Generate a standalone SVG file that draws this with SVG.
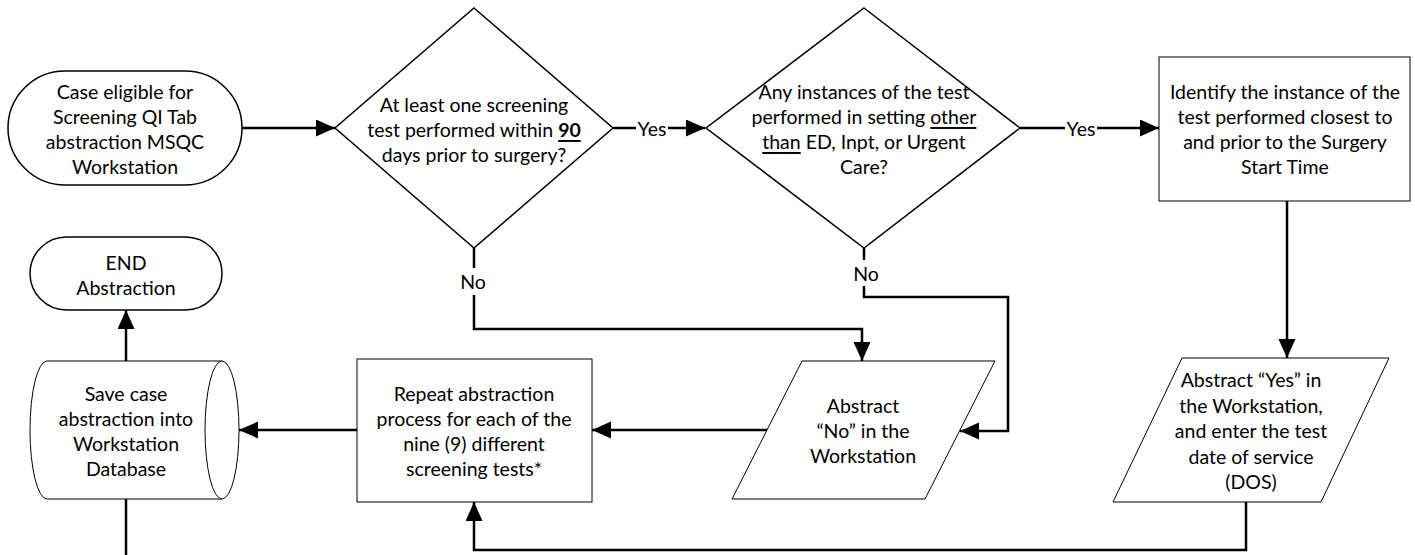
<svg xmlns="http://www.w3.org/2000/svg" width="1415" height="555" viewBox="0 0 1415 555">
<style>
  .shape { fill: #ffffff; stroke: #000000; stroke-width: 1.5; }
  .thin { fill: #ffffff; stroke: #000000; stroke-width: 1; }
  .conn { fill: none; stroke: #000000; stroke-width: 2.5; }
  text { font-family: "Lato", "Liberation Sans", sans-serif; font-size: 19.5px; fill: #000000; text-anchor: middle; dominant-baseline: central; }
  .u { text-decoration: underline; }
  .b { font-weight: bold; }
</style>
<defs>
  <marker id="arrow" markerUnits="userSpaceOnUse" markerWidth="20" markerHeight="18" refX="19" refY="8.5" orient="auto">
    <path d="M0,0 L19,8.5 L0,17 Z" fill="#000000"/>
  </marker>
</defs>
<rect width="1415" height="555" fill="#ffffff"/>

<g id="connectors">
  <path class="conn" d="M242,128 H335" marker-end="url(#arrow)"/>
  <path class="conn" d="M613,128 H636"/>
  <path class="conn" d="M668,128 H705" marker-end="url(#arrow)"/>
  <path class="conn" d="M1020,128 H1065"/>
  <path class="conn" d="M1097,128 H1159" marker-end="url(#arrow)"/>
  <path class="conn" d="M1287,201 V358" marker-end="url(#arrow)"/>
  <path class="conn" d="M474,248 V268"/>
  <path class="conn" d="M474,295 V329 H862 V361" marker-end="url(#arrow)"/>
  <path class="conn" d="M864,248 V260"/>
  <path class="conn" d="M864,286 V297 H1008 V431 H960" marker-end="url(#arrow)"/>
  <path class="conn" d="M767,430 H592" marker-end="url(#arrow)"/>
  <path class="conn" d="M357,430 H239" marker-end="url(#arrow)"/>
  <path class="conn" d="M126,361 V310" marker-end="url(#arrow)"/>
  <path class="conn" d="M1246,502 V550 H474 V502" marker-end="url(#arrow)"/>
  <path class="conn" d="M126,499 V555"/>
  <text x="652" y="128">Yes</text>
  <text x="1081" y="128">Yes</text>
  <text x="473" y="281">No</text>
  <text x="866" y="273">No</text>
</g>

<g id="start">
  <rect class="shape" x="8" y="71" width="234" height="114" rx="57" ry="57"/>
  <text x="125" y="91">Case eligible for</text>
  <text x="125" y="116">Screening QI Tab</text>
  <text x="125" y="141">abstraction MSQC</text>
  <text x="125" y="166">Workstation</text>
</g>

<g id="decision1">
  <polygon class="shape" points="474,8 613,128 474,248 335,128"/>
  <text x="474" y="104">At least one screening</text>
  <text x="474" y="129">test performed within <tspan class="b u">90</tspan></text>
  <text x="474" y="154">days prior to surgery?</text>
</g>

<g id="decision2">
  <polygon class="shape" points="864,8 1020,128 864,248 706,128"/>
  <text x="864" y="91">Any instances of the test</text>
  <text x="864" y="116">performed in setting <tspan class="u">other</tspan></text>
  <text x="864" y="141"><tspan class="u">than</tspan> ED, Inpt, or Urgent</text>
  <text x="864" y="166">Care?</text>
</g>

<g id="identify">
  <rect class="thin" x="1159" y="57" width="251" height="144"/>
  <text x="1285" y="91">Identify the instance of the</text>
  <text x="1285" y="116">test performed closest to</text>
  <text x="1285" y="141">and prior to the Surgery</text>
  <text x="1285" y="166">Start Time</text>
</g>

<g id="abstract-yes">
  <polygon class="thin" points="1182,358 1389,358 1321,502 1113,502"/>
  <text x="1251" y="379">Abstract “Yes” in</text>
  <text x="1251" y="405">the Workstation,</text>
  <text x="1251" y="430">and enter the test</text>
  <text x="1251" y="456">date of service</text>
  <text x="1251" y="481">(DOS)</text>
</g>

<g id="abstract-no">
  <polygon class="thin" points="802,361 995,361 925,499 732,499"/>
  <text x="863" y="405">Abstract</text>
  <text x="863" y="430">“No” in the</text>
  <text x="863" y="455">Workstation</text>
</g>

<g id="repeat">
  <rect class="thin" x="357" y="359" width="235" height="143"/>
  <text x="474" y="393">Repeat abstraction</text>
  <text x="474" y="418">process for each of the</text>
  <text x="474" y="443">nine (9) different</text>
  <text x="474" y="468">screening tests*</text>
</g>

<g id="save">
  <path class="thin" d="M47,361 H222 A17,69 0 0 1 222,499 H47 A17,69 0 0 1 47,361 Z"/>
  <path class="thin" d="M222,361 A17,69 0 0 0 222,499"/>
  <text x="126" y="393">Save case</text>
  <text x="126" y="418">abstraction into</text>
  <text x="126" y="443">Workstation</text>
  <text x="126" y="468">Database</text>
</g>

<g id="end">
  <rect class="shape" x="30" y="237" width="192" height="73" rx="36.5" ry="36.5"/>
  <text x="126" y="262">END</text>
  <text x="126" y="287">Abstraction</text>
</g>
</svg>
